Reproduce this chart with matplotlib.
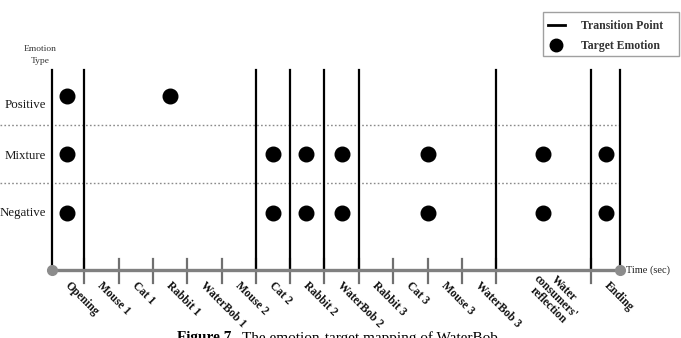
import matplotlib
matplotlib.use("Agg")
import matplotlib.pyplot as plt
from matplotlib.lines import Line2D
from matplotlib.patches import Rectangle

# ---------------- data ----------------
emotion_rows = ["Negative", "Mixture", "Positive"]          # y categories (0,1,2)
segment_bounds = [0, 32, 67, 101, 135, 170, 204, 238, 272, 307, 341, 376, 410, 444, 539, 568]
segment_labels = ["Opening", "Mouse 1", "Cat 1", "Rabbit 1", "WaterBob 1", "Mouse 2",
                  "Cat 2", "Rabbit 2", "WaterBob 2", "Rabbit 3", "Cat 3", "Mouse 3",
                  "WaterBob 3", "Water\nconsumers'\nreflection", "Ending"]
transition_points = [0, 32, 204, 238, 272, 307, 444, 539, 568]
positive_x = [15, 118]
mixture_x = [15, 221, 254, 290, 376, 491, 554]
negative_x = [15, 221, 254, 290, 376, 491, 554]

# ---------------- figure ----------------
W, H, DPI = 681, 338, 100
fig = plt.figure(figsize=(W / DPI, H / DPI), dpi=DPI)
ax = fig.add_axes([0, 0, 1, 1])
ax.axis("off")

X0 = 52          # pixel of time 0
ROW_PX = 58.5    # pixel spacing of rows
MID_PX = 154     # pixel row of "Mixture"


def vy(ypix):
    return 1 + (MID_PX - ypix) / ROW_PX


ax.set_xlim(-X0, W - X0)
ax.set_ylim(vy(H), vy(0))

serif = "Liberation Serif"
end_t = segment_bounds[-1]
axis_y = vy(270)

# dotted row separators
for b in (0.5, 1.5):
    ax.plot([-X0, end_t], [b, b], color="#8a8a8a", lw=1.0, ls=(0, (1.2, 1.6)), zorder=1)

# small ticks on time axis
for t in segment_bounds[1:-1]:
    ax.plot([t, t], [vy(259), vy(283)], color="#707070", lw=1.6, zorder=2)

# transition lines
for t in transition_points:
    ax.plot([t, t], [axis_y, vy(70)], color="black", lw=1.6, zorder=3)

# time axis
ax.plot([0, end_t], [axis_y, axis_y], color="#808080", lw=2.4, zorder=4,
        solid_capstyle="butt")
ax.plot([0, end_t], [axis_y, axis_y], ls="none", marker="o", ms=7,
        color="#8c8c8c", zorder=5)

# target emotions
ax.plot(positive_x, [2] * len(positive_x), ls="none", marker="o", ms=10.5, color="black", zorder=6)
ax.plot(mixture_x, [1] * len(mixture_x), ls="none", marker="o", ms=10.5, color="black", zorder=6)
ax.plot(negative_x, [0] * len(negative_x), ls="none", marker="o", ms=10.5, color="black", zorder=6)

# row labels
row_label_px = {"Positive": 105, "Mixture": 156, "Negative": 213}
for lab in emotion_rows:
    ax.text(46 - X0, vy(row_label_px[lab]), lab, ha="right", va="center",
            fontsize=9.3, family=serif, color="#1a1a1a")
ax.text(40 - X0, vy(49), "Emotion", ha="center", va="center", fontsize=6.8, family=serif,
        color="#333333")
ax.text(40 - X0, vy(61), "Type", ha="center", va="center", fontsize=6.8, family=serif,
        color="#333333")

# segment labels
for i, lab in enumerate(segment_labels):
    s = segment_bounds[i]
    if "\n" in lab:
        ax.text(504, vy(297), lab, rotation=-45, rotation_mode="anchor",
                ha="center", va="center", multialignment="center",
                fontsize=8.3, family=serif, fontweight="bold", color="#111111",
                linespacing=0.95)
    else:
        ax.text(s + 19, vy(280), lab, rotation=-45, rotation_mode="anchor",
                ha="left", va="top", fontsize=8.3, family=serif,
                fontweight="bold", color="#111111")

ax.text(end_t + 6, axis_y, "Time (sec)", ha="left", va="center", fontsize=7.5,
        family=serif, color="#222222")

# legend (frame drawn separately to match the reference padding)
fig.add_artist(Rectangle((543 / W, 1 - 56 / H), 136 / W, 44 / H,
                         transform=fig.transFigure, fill=False,
                         edgecolor="#a0a0a0", linewidth=1.0))
handles = [Line2D([], [], color="black", lw=2),
           Line2D([], [], ls="none", marker="o", ms=9, color="black")]
leg = fig.legend(handles, ["Transition Point", "Target Emotion"],
                 loc="upper left", bbox_to_anchor=(543 / W, 1 - 15 / H),
                 prop={"family": serif, "weight": "bold", "size": 8.5},
                 frameon=False, handlelength=1.44,
                 handletextpad=1.35, labelspacing=0.68, borderpad=0.42,
                 borderaxespad=0)
for t in leg.get_texts():
    t.set_color("#333333")

# caption (cut by the bottom edge, as in the reference)
fig.text(177 / W, 1 - 331 / H, "Figure 7", ha="left", va="top", fontsize=11,
         family=serif, fontweight="bold")
fig.text(242 / W, 1 - 331 / H, "The emotion-target mapping of WaterBob", ha="left",
         va="top", fontsize=11, family=serif)

fig.savefig("out.png", dpi=DPI)
